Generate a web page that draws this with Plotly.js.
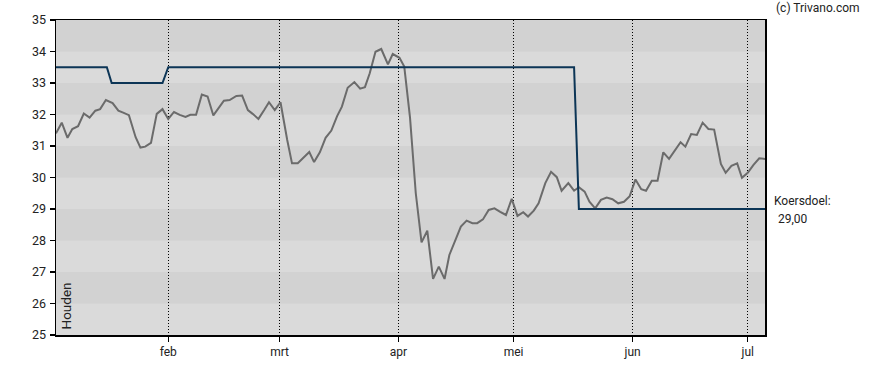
<!DOCTYPE html>
<html>
<head>
<meta charset="utf-8">
<script src="https://cdn.plot.ly/plotly-3.0.1.min.js"></script>
<style>
  html, body { margin: 0; padding: 0; background: #ffffff; }
  #chart { width: 888px; height: 370px; }
</style>
</head>
<body>
<div id="chart"></div>
<script>
// Price series
var priceDates = [
  '2024-01-02 18:00','2024-01-04 06:00','2024-01-05 18:00','2024-01-07 00:00','2024-01-08 12:00',
  '2024-01-10 00:00','2024-01-11 12:00','2024-01-13 00:00','2024-01-14 06:00','2024-01-15 18:00',
  '2024-01-17 12:00','2024-01-19 00:00','2024-01-20 06:00','2024-01-21 18:00','2024-01-23 12:00',
  '2024-01-24 18:00','2024-01-26 00:00','2024-01-27 12:00','2024-01-29 00:00','2024-01-30 12:00',
  '2024-02-01 00:00','2024-02-02 12:00','2024-02-04 00:00','2024-02-05 12:00','2024-02-06 18:00',
  '2024-02-08 06:00','2024-02-09 18:00','2024-02-11 06:00','2024-02-12 18:00','2024-02-14 00:00',
  '2024-02-15 12:00','2024-02-17 00:00','2024-02-18 18:00','2024-02-20 06:00','2024-02-21 18:00',
  '2024-02-23 00:00','2024-02-24 12:00','2024-02-26 00:00','2024-02-27 06:00','2024-02-28 18:00',
  '2024-03-01 06:00','2024-03-03 00:00','2024-03-04 06:00','2024-03-05 18:00','2024-03-07 06:00',
  '2024-03-08 18:00','2024-03-10 00:00','2024-03-11 12:00','2024-03-13 00:00','2024-03-14 12:00',
  '2024-03-16 00:00','2024-03-17 06:00','2024-03-18 18:00','2024-03-20 12:00','2024-03-22 00:00',
  '2024-03-23 06:00','2024-03-24 12:00','2024-03-26 00:00','2024-03-27 12:00','2024-03-29 06:00',
  '2024-03-30 12:00','2024-04-01 06:00','2024-04-02 12:00','2024-04-04 00:00','2024-04-05 12:00',
  '2024-04-07 00:00','2024-04-08 12:00','2024-04-10 00:00','2024-04-11 12:00','2024-04-13 00:00',
  '2024-04-14 06:00','2024-04-15 18:00','2024-04-17 06:00','2024-04-18 18:00','2024-04-20 06:00',
  '2024-04-21 12:00','2024-04-23 00:00','2024-04-24 12:00','2024-04-26 00:00','2024-04-27 12:00',
  '2024-04-29 00:00','2024-04-30 12:00','2024-05-02 00:00','2024-05-03 12:00','2024-05-04 18:00',
  '2024-05-06 06:00','2024-05-07 12:00','2024-05-09 06:00','2024-05-10 18:00','2024-05-12 06:00',
  '2024-05-13 12:00','2024-05-15 06:00','2024-05-16 18:00','2024-05-18 00:00','2024-05-19 12:00',
  '2024-05-20 18:00','2024-05-22 06:00','2024-05-23 18:00','2024-05-25 06:00','2024-05-26 18:00',
  '2024-05-28 06:00','2024-05-29 18:00','2024-05-31 06:00','2024-06-01 18:00','2024-06-03 06:00',
  '2024-06-04 12:00','2024-06-06 00:00','2024-06-07 12:00','2024-06-09 00:00','2024-06-10 12:00',
  '2024-06-12 00:00','2024-06-13 12:00','2024-06-14 18:00','2024-06-16 06:00','2024-06-17 18:00',
  '2024-06-19 06:00','2024-06-20 18:00','2024-06-22 06:00','2024-06-24 00:00','2024-06-25 06:00',
  '2024-06-26 18:00','2024-06-28 06:00','2024-06-29 12:00','2024-07-01 00:00','2024-07-02 12:00',
  '2024-07-04 00:00','2024-07-05 12:00'
];
var prices = [
  31.40, 31.74, 31.26, 31.54, 31.63,
  32.03, 31.90, 32.12, 32.17, 32.46,
  32.36, 32.12, 32.06, 31.98, 31.28,
  30.95, 30.98, 31.10, 32.02, 32.17,
  31.86, 32.08, 31.99, 31.92, 31.99,
  31.99, 32.63, 32.57, 31.97, 32.18,
  32.44, 32.46, 32.59, 32.60, 32.14,
  32.02, 31.86, 32.14, 32.39, 32.14,
  32.39, 31.19, 30.45, 30.45, 30.64,
  30.81, 30.49, 30.80, 31.26, 31.49,
  31.95, 32.25, 32.85, 33.03, 32.82,
  32.87, 33.31, 33.99, 34.08, 33.59,
  33.92, 33.80, 33.52, 31.90, 29.50,
  27.94, 28.31, 26.78, 27.17, 26.78,
  27.54, 27.96, 28.44, 28.63, 28.55,
  28.55, 28.67, 28.97, 29.02, 28.91,
  28.81, 29.32, 28.78, 28.90, 28.76,
  28.95, 29.18, 29.82, 30.18, 30.01,
  29.58, 29.82, 29.58, 29.69, 29.55,
  29.23, 29.02, 29.29, 29.36, 29.31,
  29.18, 29.23, 29.41, 29.94, 29.63,
  29.58, 29.90, 29.90, 30.80, 30.59,
  30.87, 31.12, 30.98, 31.38, 31.35,
  31.74, 31.54, 31.52, 30.43, 30.15,
  30.37, 30.45, 29.99, 30.15, 30.40,
  30.61, 30.59
];

// Price target (koersdoel) series
var targetDates = ['2024-01-02 18:00','2024-01-16 00:00','2024-01-17 06:00','2024-01-30 12:00',
                   '2024-02-01 00:00','2024-05-16 18:00','2024-05-18 00:00','2024-07-05 12:00'];
var targetValues = [33.5, 33.5, 33.0, 33.0, 33.5, 33.5, 29.0, 29.0];

// Axis ticks
var monthTicks = ['2024-02-01','2024-03-01','2024-04-01','2024-05-01','2024-06-01','2024-07-01'];
var monthLabels = ['feb','mrt','apr','mei','jun','jul'];
var yTicks = [25, 26, 27, 28, 29, 30, 31, 32, 33, 34, 35];

var targetLabel = 'Koersdoel:';
var targetText = '29,00';
var adviceText = 'Houden';
var credit = '(c) Trivano.com';

// Alternating horizontal bands
var shapes = [];
for (var i = 0; i < yTicks.length - 1; i++) {
  shapes.push({
    type: 'rect', xref: 'paper', yref: 'y', layer: 'below',
    x0: 0, x1: 1, y0: yTicks[i], y1: yTicks[i + 1],
    fillcolor: (i % 2 === 0) ? '#dadada' : '#d2d2d2',
    line: { width: 0 }
  });
}

var font = 'Roboto, "Liberation Sans", Arial, sans-serif';

var traces = [
  {
    x: priceDates, y: prices, type: 'scatter', mode: 'lines',
    line: { color: '#6b6b6b', width: 2 }, hoverinfo: 'skip'
  },
  {
    x: targetDates, y: targetValues, type: 'scatter', mode: 'lines',
    line: { color: '#0c3556', width: 2 }, hoverinfo: 'skip'
  }
];

var layout = {
  width: 888, height: 370,
  margin: { l: 55.5, r: 122.7, t: 20, b: 35, pad: 0 },
  paper_bgcolor: '#ffffff',
  plot_bgcolor: '#d6d6d6',
  showlegend: false,
  font: { family: font, size: 12, color: '#222222' },
  xaxis: {
    type: 'date',
    range: [priceDates[0], priceDates[priceDates.length - 1]],
    tickmode: 'array', tickvals: monthTicks, ticktext: monthLabels,
    showgrid: true, gridcolor: '#000000', griddash: '1px,2px', gridwidth: 1,
    showline: true, linecolor: '#000000', linewidth: 1.5, mirror: true,
    ticks: 'outside', ticklen: 5, tickcolor: '#000000', tickwidth: 1.5,
    tickfont: { family: font, size: 12, color: '#222222' },
    zeroline: false, fixedrange: true
  },
  yaxis: {
    range: [25, 35],
    tickmode: 'array', tickvals: yTicks,
    showgrid: false,
    showline: true, linecolor: '#000000', linewidth: 1.5, mirror: true,
    ticks: 'outside', ticklen: 5, tickcolor: '#000000', tickwidth: 1.5,
    tickfont: { family: font, size: 12.5, color: '#222222' },
    ticklabelstandoff: 1,
    zeroline: false, fixedrange: true
  },
  shapes: shapes,
  annotations: [
    {
      text: credit, xref: 'paper', yref: 'paper', x: 1.012, y: 1.0, yshift: 3,
      xanchor: 'left', yanchor: 'bottom', showarrow: false,
      font: { family: font, size: 12, color: '#222222' }
    },
    {
      text: targetLabel, xref: 'paper', yref: 'y', x: 1.010, y: targetValues[targetValues.length - 1],
      yshift: 8, xanchor: 'left', yanchor: 'middle', showarrow: false,
      font: { family: font, size: 12, color: '#222222' }
    },
    {
      text: targetText, xref: 'paper', yref: 'y', x: 1.016, y: targetValues[targetValues.length - 1],
      yshift: -10, xanchor: 'left', yanchor: 'middle', showarrow: false,
      font: { family: font, size: 12, color: '#222222' }
    },
    {
      text: adviceText, xref: 'paper', yref: 'paper', x: 0, y: 0, xshift: -1, yshift: 3,
      xanchor: 'left', yanchor: 'bottom', textangle: -90, showarrow: false,
      font: { family: font, size: 13.5, color: '#222222' }
    }
  ]
};

Plotly.newPlot('chart', traces, layout, { staticPlot: true, displayModeBar: false });
</script>
</body>
</html>
